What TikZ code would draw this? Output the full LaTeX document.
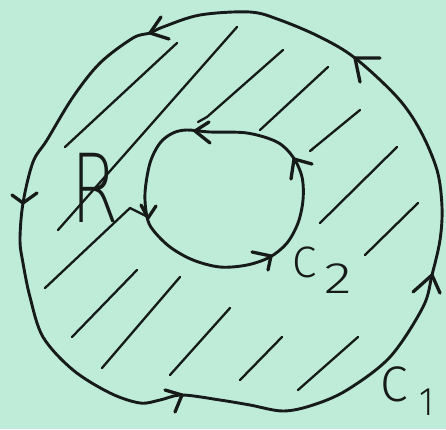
\documentclass[tikz,border=0pt]{standalone}
\usepackage{fontspec}
\IfFontExistsTF{DejaVu Sans ExtraLight}{\newfontfamily\xlightfont{DejaVu Sans ExtraLight}}{\newfontfamily\xlightfont{DejaVu Sans}}
\IfFontExistsTF{Fira Sans Light}{\newfontfamily\lightfont{Fira Sans Light}}{\newfontfamily\lightfont{Fira Sans}}
\definecolor{bg}{RGB}{191,236,217}
\definecolor{ink}{RGB}{22,26,24}
\begin{document}
\begin{tikzpicture}[x=1pt,y=-1pt,line cap=round,line join=round,
  curve/.style={draw=ink,line width=2.9pt},
  hatch/.style={draw=ink,line width=2.3pt},
  barb/.style={draw=ink,line width=3.3pt},
  lbl/.style={inner sep=0pt,anchor=base west,text=ink}]
\fill[bg] (0,0) rectangle (446,429);
\useasboundingbox (0,0) rectangle (446,429);
% hatching of region R
\draw[hatch] (65,147) -- (177,43);
\draw[hatch] (58,230) -- (237,27);
\draw[hatch] (198,122) -- (207,117) -- (283,50);
\draw[hatch] (260,130) -- (328,67);
\draw[hatch] (313,149) -- (310,151) -- (360,110);
\draw[hatch] (320,223) -- (397,147);
\draw[hatch] (365,255) -- (418,203);
\draw[hatch] (298,390) -- (358,337);
\draw[hatch] (240,380) -- (282,337);
\draw[hatch] (170,375) -- (230,308);
\draw[hatch] (102,368) -- (180,277);
\draw[hatch] (72,337) -- (137,270);
\draw[hatch] (45,288) -- (130,208) -- (146,216);
% outer curve C1
\draw[curve] plot[smooth cycle, tension=0.55] coordinates {(150,33) (133,38) (100,63) (73,97) (47,140) (33,162) (23,203) (20,240) (23,263) (30,297) (43,337) (73,370) (110,393) (140,403) (160,400) (182,395) (220,400) (250,405) (283,411) (313,405) (347,390) (390,357) (423,307) (432,275) (440,240) (442,207) (437,170) (420,130) (397,97) (355,58) (320,37) (280,20) (250,12) (200,15) (163,27)};
% inner curve C2
\draw[curve] plot[smooth cycle, tension=0.55] coordinates {(187,130) (210,132) (247,133) (277,142) (293,157) (302,177) (303,200) (298,223) (287,243) (270,257) (247,265) (220,267) (193,260) (170,247) (153,230) (147,217) (145,193) (150,163) (160,143) (173,133)};
% arrowheads on C1
\draw[barb] (161,17) -- (150,33) -- (169,39);
\draw[barb] (380,58) -- (355,58) -- (360,82);
\draw[barb] (12,195) -- (23,203) -- (37,193);
\draw[barb] (413,292) -- (432,275) -- (440,293);
\draw[barb] (165,390) -- (182,395) -- (175,412);
% arrowheads on C2
\draw[barb] (209,122) -- (195,131) -- (210,143);
\draw[barb] (312,164) -- (294,159) -- (291,179);
\draw[barb] (141,205) -- (148,218) -- (156,206);
\draw[barb] (252,252) -- (271,256) -- (268,270);
% labels
\node[lbl,font=\xlightfont\fontsize{95}{95}\selectfont] (r) at (71,222) {\scalebox{0.72}[1]{R}};
\node[lbl,font=\lightfont\fontsize{44}{44}\selectfont] (c2) at (292,277) {C\hspace{8pt}\raisebox{-16pt}{\scalebox{1.3}[1]{2}}};
\node[lbl,font=\lightfont\fontsize{50}{50}\selectfont] (c1) at (380,401) {C\hspace{12pt}\raisebox{-14pt}{\scalebox{0.7}[0.8]{1}}};
\end{tikzpicture}
\end{document}
